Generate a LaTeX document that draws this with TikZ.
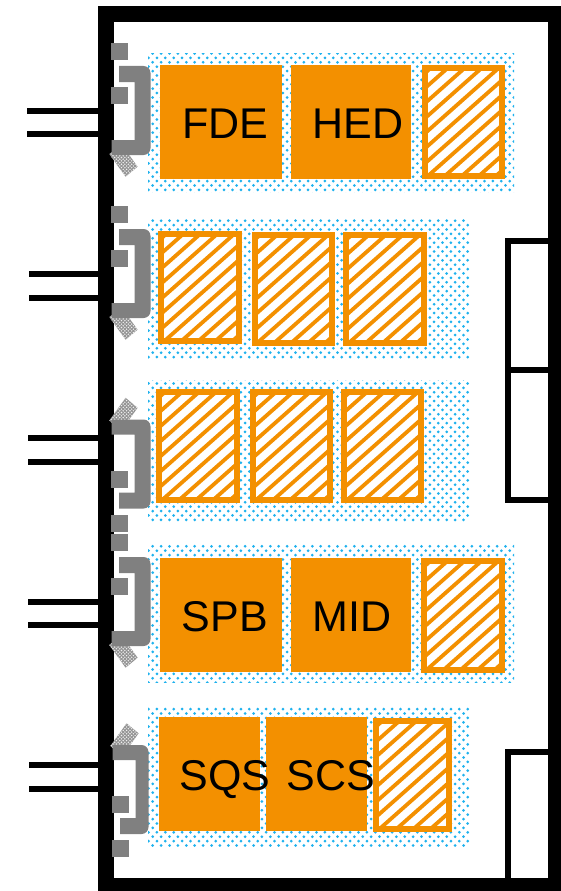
\documentclass[tikz,border=0pt]{standalone}
\usepackage{fontspec}
\usetikzlibrary{patterns}
\setmainfont{Liberation Sans}
\definecolor{orng}{HTML}{F39000}
\definecolor{dotblue}{HTML}{1FB2EE}
\definecolor{grayb}{HTML}{808080}
\pgfdeclarepatternformonly{bluedots}{\pgfpoint{-1pt}{-1pt}}{\pgfpoint{9.4pt}{9.8pt}}{\pgfpoint{8.4pt}{8.8pt}}{
  \pgfpathcircle{\pgfpoint{1.5pt}{1.5pt}}{1.5pt}
  \pgfpathcircle{\pgfpoint{5.7pt}{5.9pt}}{1.5pt}
  \pgfusepath{fill}
}
\pgfdeclarepatternformonly{checkdots}{\pgfpoint{-1pt}{-1pt}}{\pgfpoint{3.8pt}{3.8pt}}{\pgfpoint{3.4pt}{3.4pt}}{
  \pgfpathcircle{\pgfpoint{0.8pt}{0.8pt}}{0.8pt}
  \pgfpathcircle{\pgfpoint{2.5pt}{2.5pt}}{0.8pt}
  \pgfusepath{fill}
}
\tikzset{
  solidbox/.style={fill=orng,draw=none},
  hatchframe/.style={draw=orng,line width=6pt,fill=none},
  hatchline/.style={draw=orng,line width=3.8pt},
  lead/.style={draw=black,line width=6pt},
  sidebox/.style={draw=black,line width=6pt,fill=white},
  label/.style={font=\fontsize{43}{43}\selectfont,text=black,inner sep=0pt,anchor=base},
  gray part/.style={fill=grayb,draw=none},
  dotfield/.style={pattern=bluedots,pattern color=dotblue,draw=none}
}
\newcommand{\hatchbox}[4]{% x1 y1 x2 y2
  \fill[white] (#1,#2) rectangle (#3,#4);
  \begin{scope}
    \clip (#1,#2) rectangle (#3,#4);
    \foreach \s in {0,17,...,238}{
      \draw[hatchline] (#1-140+\s,#4+6) -- ++(140,-124);
    }
  \end{scope}
  \draw[hatchframe] (#1,#2) rectangle (#3,#4);
}
\newcommand{\clampset}[1]{% right edge x
  \fill[gray!85] (109.3,154) -- (125.6,176.7) -- (137.6,166.7) -- (121.3,144) -- cycle;
  \path[pattern=checkdots,pattern color=gray!12] (109.3,154) -- (125.6,176.7) -- (137.6,166.7) -- (121.3,144) -- cycle;
  \fill[gray part] (119,66) [rounded corners=7pt] -- (#1,66) -- (#1,155) [sharp corners] -- (111.5,155) -- (111.5,140) -- (134.5,140) -- (134.5,82) -- (119,82) -- cycle;
  \fill[gray part] (111,43) rectangle (128,60);
  \fill[gray part] (111,87) rectangle (128,104);
}
\begin{document}
\begin{tikzpicture}[x=1pt,y=-1pt]
  \useasboundingbox (0,0) rectangle (560,891);
  \fill[white] (0,0) rectangle (560,891);

  % dotted backgrounds
  \path[dotfield] (148,54) rectangle (514,192);
  \path[dotfield] (148,218) rectangle (469,359);
  \path[dotfield] (148,380) rectangle (469,521);
  \path[dotfield] (148,544) rectangle (514,682);
  \path[dotfield] (148,707) rectangle (469,846);

  % row 1
  \fill[solidbox] (160,65) rectangle (282,179);
  \node[label] (fde) at (225,138) {FDE};
  \fill[solidbox] (291,65) rectangle (411,179);
  \node[label] (hed) at (358,138) {HED};
  \hatchbox{424.7}{68}{502}{176.3}

  % row 2
  \hatchbox{161.3}{234}{238.7}{341.3}
  \hatchbox{254.7}{234.7}{332.3}{342.7}
  \hatchbox{346.3}{234.7}{423.7}{342.7}

  % row 3
  \hatchbox{159}{392}{236.7}{500.3}
  \hatchbox{253}{392.3}{330.3}{500.3}
  \hatchbox{344}{392.3}{421.3}{500.3}

  % row 4
  \fill[solidbox] (160,558) rectangle (282,672);
  \node[label] (spb) at (225,631) {SPB};
  \fill[solidbox] (291,558) rectangle (411,672);
  \node[label] (mid) at (352,631) {MID};
  \hatchbox{424}{561.3}{502}{669.7}

  % row 5
  \fill[solidbox] (159,717) rectangle (260,831);
  \fill[solidbox] (266,717) rectangle (367,831);
  \hatchbox{376.3}{721.3}{448.7}{829.3}
  \node[label] (sqs) at (225,790) {SQS};
  \node[label] (scs) at (331,790) {SCS};

  % right side boxes
  \draw[sidebox] (507.7,241) rectangle (556,370);
  \draw[sidebox] (507.7,370) rectangle (556,499.7);
  \draw[sidebox] (507.7,752) rectangle (556,886);

  % leads
  \foreach \ya/\yb/\xs in {111/134/27,274/298/29,438/462/28,602/625/28,765/789/29}{
    \draw[lead] (\xs,\ya) -- (100,\ya);
    \draw[lead] (\xs,\yb) -- (100,\yb);
  }

  % outer frame
  \draw[black,line width=16pt] (106.3,14) rectangle (556,886.3);

  % clamps
  \clampset{150.5}
  \begin{scope}[shift={(0,163)}]\clampset{150.5}\end{scope}
  \begin{scope}[shift={(0,574.5)},yscale=-1]\clampset{150.5}\end{scope}
  \begin{scope}[shift={(0,491)}]\clampset{150.5}\end{scope}
  \begin{scope}[shift={(1,900)},yscale=-1]\clampset{147.5}\end{scope}
\end{tikzpicture}
\end{document}
